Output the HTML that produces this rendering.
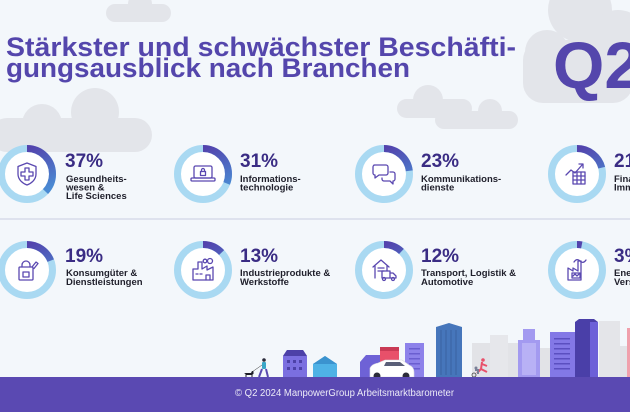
<!DOCTYPE html>
<html><head><meta charset="utf-8"><style>
html,body{margin:0;padding:0;background:#f3f7fb;}
svg{display:block;}
</style></head><body>
<svg width="630" height="412" viewBox="0 0 630 412" xmlns="http://www.w3.org/2000/svg" font-family="'Liberation Sans', Arial, sans-serif">
<defs>
<linearGradient id="arc" x1="1" y1="0.5" x2="0.2" y2="0.9">
<stop offset="0" stop-color="#5342ac"/><stop offset="1" stop-color="#4a8ad3"/>
</linearGradient>
</defs>
<rect width="630" height="412" fill="#f3f7fb"/>
<!-- clouds -->
<g fill="#e3e5ea">
<rect x="106" y="4" width="65" height="18" rx="9"/><circle cx="140" cy="4" r="12"/>
<circle cx="580" cy="10" r="32"/><circle cx="547" cy="52" r="22"/><circle cx="618" cy="40" r="30"/><rect x="523" y="40" width="110" height="63" rx="20"/>
<rect x="397" y="99" width="75" height="19" rx="9.5"/><circle cx="428" cy="100" r="15"/>
<rect x="435" y="111" width="83" height="18" rx="9"/><circle cx="490" cy="111" r="12"/>
<circle cx="95" cy="112" r="24"/><circle cx="42" cy="124" r="20"/><rect x="-10" y="118" width="162" height="34" rx="17"/>
</g>
<!-- title -->
<g fill="#5446ac" font-weight="bold" font-size="27">
<text x="6" y="56" textLength="510" lengthAdjust="spacingAndGlyphs">Stärkster und schwächster Beschäfti-</text>
<text x="6" y="77" textLength="404" lengthAdjust="spacingAndGlyphs">gungsausblick nach Branchen</text>
</g>
<text x="553" y="88" fill="#5446ac" font-weight="bold" font-size="66">Q2</text>
<!-- divider -->
<line x1="0" y1="219" x2="630" y2="219" stroke="#c8cce0" stroke-width="1"/>
<!-- rings -->
<g stroke-width="7">
<g><circle cx="27" cy="174" r="25.5" fill="#fff" stroke="#a9d9f2"/><circle cx="27" cy="174" r="25.5" fill="none" stroke="url(#arc)" stroke-dasharray="59.3 200" transform="rotate(-90 27 174)"/></g>
<g><circle cx="203" cy="174" r="25.5" fill="#fff" stroke="#a9d9f2"/><circle cx="203" cy="174" r="25.5" fill="none" stroke="url(#arc)" stroke-dasharray="49.7 200" transform="rotate(-90 203 174)"/></g>
<g><circle cx="384" cy="174" r="25.5" fill="#fff" stroke="#a9d9f2"/><circle cx="384" cy="174" r="25.5" fill="none" stroke="url(#arc)" stroke-dasharray="36.8 200" transform="rotate(-90 384 174)"/></g>
<g><circle cx="577" cy="174" r="25.5" fill="#fff" stroke="#a9d9f2"/><circle cx="577" cy="174" r="25.5" fill="none" stroke="url(#arc)" stroke-dasharray="33.6 200" transform="rotate(-90 577 174)"/></g>
<g><circle cx="27" cy="270" r="25.5" fill="#fff" stroke="#a9d9f2"/><circle cx="27" cy="270" r="25.5" fill="none" stroke="url(#arc)" stroke-dasharray="30.4 200" transform="rotate(-90 27 270)"/></g>
<g><circle cx="203" cy="270" r="25.5" fill="#fff" stroke="#a9d9f2"/><circle cx="203" cy="270" r="25.5" fill="none" stroke="url(#arc)" stroke-dasharray="20.8 200" transform="rotate(-90 203 270)"/></g>
<g><circle cx="384" cy="270" r="25.5" fill="#fff" stroke="#a9d9f2"/><circle cx="384" cy="270" r="25.5" fill="none" stroke="url(#arc)" stroke-dasharray="19.2 200" transform="rotate(-90 384 270)"/></g>
<g><circle cx="577" cy="270" r="25.5" fill="#fff" stroke="#a9d9f2"/><circle cx="577" cy="270" r="25.5" fill="none" stroke="url(#arc)" stroke-dasharray="4.8 200" transform="rotate(-90 577 270)"/></g>
</g>
<!-- icons -->
<g fill="none" stroke="#5a48b0" stroke-width="1.3" stroke-linejoin="round" stroke-linecap="round">
<g transform="translate(27,174)"><path d="M0,-11 L9,-7.5 L9,0 C9,6 4,9.5 0,11 C-4,9.5 -9,6 -9,0 L-9,-7.5 Z"/><path d="M-2,-6 h4 v4 h4 v4 h-4 v4 h-4 v-4 h-4 v-4 h4 z"/></g>
<g transform="translate(203,174)"><rect x="-9" y="-8" width="18" height="12" rx="1.5"/><rect x="-12" y="4" width="24" height="3" rx="1"/><rect x="-2.5" y="-2.5" width="5" height="4"/><path d="M-1.5,-2.5 v-1.5 a1.5,1.5 0 0 1 3,0 v1.5"/></g>
<g transform="translate(384,174)"><path d="M-10,-9 h12 a2,2 0 0 1 2,2 v6 a2,2 0 0 1 -2,2 h-7 l-4,3 v-3 a2,2 0 0 1 -2,-2 v-6 a2,2 0 0 1 2,-2 z"/><path d="M6,-2 h3 a2,2 0 0 1 2,2 v5 a2,2 0 0 1 -2,2 v3 l-3,-3 h-6 a2,2 0 0 1 -2,-2 v-1"/></g>
<g transform="translate(577,174)"><path d="M-11,1 L-6,-4 L-2,-1 L5,-9"/><path d="M2,-10 L6,-10 L6,-6"/><rect x="-4" y="-2" width="12" height="12"/><path d="M-4,2 h12 M-4,6 h12 M0,-2 v12 M4,-2 v12"/></g>
<g transform="translate(27,270)"><rect x="-8" y="-3" width="14" height="13" rx="1"/><path d="M-5,-3 v-2 a4,4 0 0 1 8,0 v2"/><rect x="-4" y="2" width="6" height="5"/><path d="M5,-3 l4,-5 l2,1.5 l-4,5"/></g>
<g transform="translate(203,270)"><path d="M-10,10 V-1 h5 V-8 h4 V-1 L4,-4 V0 L10,-3 V10 Z"/><circle cx="2" cy="-9" r="1.8"/><circle cx="7" cy="-9" r="2.5"/><path d="M-7,4 h2 M-3,4 h2 M3,10 v-5 h4 v5"/></g>
<g transform="translate(384,270)"><path d="M-11,-3 L-3,-10 L5,-3"/><path d="M-9,-4 V8 M3,-4 V1"/><path d="M-6,-2 h6 M-6,1 h6"/><rect x="-2" y="1" width="8" height="7"/><path d="M6,3 h3 l3,3 v2 h-6"/><circle cx="0" cy="9" r="1.5"/><circle cx="9" cy="9" r="1.5"/></g>
<g transform="translate(577,270)"><path d="M-9,10 V-2 L-4,1 V-2 L1,1 V-9 h3 V10 Z"/><path d="M-3,-8 c2,-3 4,-3 6,-1 s4,2 6,-1"/><rect x="-5" y="3" width="8" height="5"/><path d="M-4,6 l2,-2 l2,2 l2,-2"/></g>
</g>
<!-- percent & labels -->
<g fill="#3a2c84" font-weight="bold" font-size="19">
<text x="65" y="167">37%</text><text x="240" y="167">31%</text><text x="421" y="167">23%</text><text x="614" y="167">21%</text>
<text x="65" y="262">19%</text><text x="240" y="262">13%</text><text x="421" y="262">12%</text><text x="614" y="262">3%</text>
</g>
<g fill="#1f1f2b" font-weight="bold" font-size="9.5">
<text x="66" y="182">Gesundheits-</text><text x="66" y="190.5">wesen &amp;</text><text x="66" y="199">Life Sciences</text>
<text x="240" y="182">Informations-</text><text x="240" y="190.5">technologie</text>
<text x="421" y="182">Kommunikations-</text><text x="421" y="190.5">dienste</text>
<text x="614" y="182">Finanzen &amp;</text><text x="614" y="190.5">Immobilien</text>
<text x="66" y="276">Konsumgüter &amp;</text><text x="66" y="285">Dienstleistungen</text>
<text x="240" y="276">Industrieprodukte &amp;</text><text x="240" y="285">Werkstoffe</text>
<text x="421" y="276">Transport, Logistik &amp;</text><text x="421" y="285">Automotive</text>
<text x="614" y="276">Energie &amp;</text><text x="614" y="285">Versorgung</text>
</g>
<!-- city -->
<g>
<rect x="472" y="343" width="46" height="34" fill="#e2e3e7"/>
<rect x="490" y="335" width="18" height="42" fill="#e6e7eb"/>
<rect x="540" y="348" width="12" height="29" fill="#e2e3e7"/>
<rect x="599" y="321" width="21" height="56" fill="#e4e5e9"/>
<rect x="620" y="346" width="10" height="31" fill="#e2e3e7"/>
<rect x="627" y="328" width="3" height="49" fill="#f0a0ac"/>
<!-- purple house -->
<path d="M283,377 V356 L287,350 H303 L307,356 V377 Z" fill="#7b6fe0"/>
<path d="M283,356 L287,350 H303 L307,356 Z" fill="#4d41a8"/>
<g fill="#4d41a8"><rect x="287" y="360" width="3" height="3"/><rect x="293" y="360" width="3" height="3"/><rect x="299" y="360" width="3" height="3"/><rect x="287" y="367" width="3" height="3"/><rect x="293" y="367" width="3" height="3"/><rect x="299" y="367" width="3" height="3"/></g>
<!-- blue house -->
<path d="M313,377 V364 L325,356 L337,364 V377 Z" fill="#4fb2e6"/>
<path d="M313,364 L325,356 L337,364 Z" fill="#3b93cf"/>
<!-- small purple house + red -->
<path d="M360,377 V362 L366,355 H380 V377 Z" fill="#6e62d6"/>
<rect x="380" y="347" width="19" height="30" fill="#e8506a"/>
<rect x="380" y="347" width="19" height="4" fill="#c93a55"/>
<!-- light purple tower -->
<rect x="405" y="343" width="19" height="34" fill="#8d82ea"/>
<g fill="#6a5ed0"><rect x="409" y="348" width="11" height="1.5"/><rect x="409" y="353" width="11" height="1.5"/><rect x="409" y="358" width="11" height="1.5"/><rect x="409" y="363" width="11" height="1.5"/><rect x="409" y="368" width="11" height="1.5"/></g>
<!-- car -->
<path d="M370,377 V368 Q372,364 378,363 L385,360 H402 L409,365 Q414,367 414,372 V377 Z" fill="#ffffff" stroke="#d8d8e0" stroke-width="0.6"/>
<path d="M386,362 H400 L405,366 H384 Z" fill="#5a5f78"/>
<circle cx="377" cy="376" r="3.5" fill="#2c2c3a"/><circle cx="406" cy="376" r="3.5" fill="#2c2c3a"/>
<!-- blue tower -->
<path d="M436,377 V327 L449,323 L462,327 V377 Z" fill="#4676bb"/>
<g stroke="#3a62a0" stroke-width="1"><line x1="441" y1="330" x2="441" y2="375"/><line x1="446" y1="330" x2="446" y2="375"/><line x1="451" y1="330" x2="451" y2="375"/><line x1="456" y1="330" x2="456" y2="375"/></g>
<!-- light purple tall -->
<path d="M518,377 V340 H523 V329 H535 V340 H540 V377 Z" fill="#a39af0"/>
<rect x="522" y="343" width="14" height="32" fill="#b8b1f5"/>
<!-- purple building with windows -->
<rect x="550" y="332" width="26" height="45" fill="#8378e6"/>
<g fill="#5b4fc0"><rect x="554" y="338" width="16" height="1.5"/><rect x="554" y="343" width="16" height="1.5"/><rect x="554" y="348" width="16" height="1.5"/><rect x="554" y="353" width="16" height="1.5"/><rect x="554" y="358" width="16" height="1.5"/><rect x="554" y="363" width="16" height="1.5"/><rect x="554" y="368" width="16" height="1.5"/></g>
<!-- dark purple -->
<path d="M575,377 V322 L579,319 H594 L598,322 V377 Z" fill="#4a3fa8"/>
<rect x="590" y="322" width="8" height="55" fill="#6c60d8"/>
<!-- dog & person -->
<path d="M244,373 h7 l1,-2 h1.5 v3 l-1,0.5 V377 h-1 v-2 h-5 v2 h-1 v-3 l-1.5,-1 Z" fill="#1d1d28"/>
<circle cx="264" cy="360" r="1.8" fill="#2a2a3a"/>
<rect x="262" y="362" width="4" height="7" rx="1" fill="#3aa6c8"/>
<path d="M262,369 l-3,8 M266,369 l2,8" stroke="#5a4ab0" stroke-width="2"/>
<line x1="262" y1="365" x2="252" y2="372" stroke="#333" stroke-width="0.5"/>
<!-- runner -->
<circle cx="483" cy="360" r="1.8" fill="#e8506a"/>
<path d="M482,362 l-1,7 l-4,4 M481,369 l6,3 M482,364 l5,2" stroke="#e8506a" stroke-width="2" fill="none"/>
<circle cx="476" cy="368" r="1.5" fill="#7a8098"/>
<path d="M475,370 h3 v4" stroke="#7a8098" stroke-width="2" fill="none"/>
<circle cx="474" cy="375" r="2" fill="none" stroke="#444" stroke-width="0.8"/>
</g>
<!-- footer -->
<rect x="0" y="377" width="630" height="35" fill="#5a49b2"/>
<text x="235" y="396" fill="#ecebf7" font-size="10" textLength="219" lengthAdjust="spacingAndGlyphs">© Q2 2024 ManpowerGroup Arbeitsmarktbarometer</text>
</svg>
</body></html>
